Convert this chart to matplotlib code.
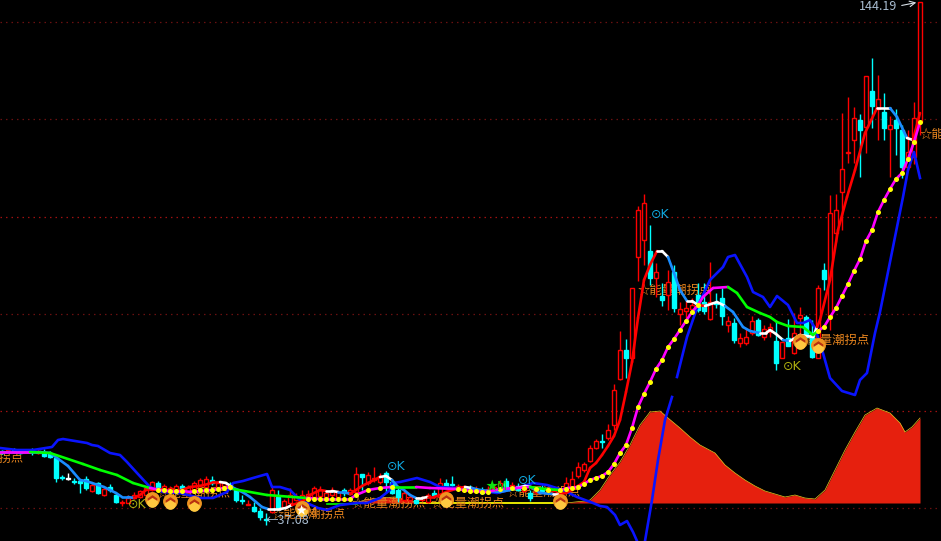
import matplotlib
matplotlib.use("Agg")
import matplotlib.pyplot as plt
from matplotlib.collections import LineCollection
from matplotlib.path import Path

plt.rcParams['font.family'] = ['Noto Sans CJK SC', 'DejaVu Sans']

# candles: x, kind, body top, body bottom, high, low (screen-scale values)
candle_x = [2,8,14,20,26,32,38,44,50,56,62,68,74,80,86,92,98,104,110,116,122,128,134,140,146,152,158,164,170,176,182,188,
            194,200,206,212,218,224,230,236,242,248,254,260,266,272,278,284,290,296,302,308,314,320,326,332,338,344,350,
            356,362,368,374,380,386,392,398,404,410,416,422,428,434,440,446,452,458,464,470,476,482,488,494,500,506,512,518,524,530,536,542,548,554,560,
            566,572,578,584,590,596,602,608,614,620,626,632,638,644,650,656,662,668,674,680,686,692,698,704,710,716,722,728,734,740,746,752,758,764,770,776,782,788,794,800,806,812,818,824,830,836,842,848,854,860,866,872,878,884,890,896,902,908,914,920]
candle_kind = list("duddudu" "ddd" "dwddududdd" "uuuuuuduuu" "duuuuduudd"
                   "duddduduuu" "uuuuuuuduu" "dudd" "uuddd" "uuuduududd"
                   "uuduuuduuduuduuu" "uuuuuuuuudu" "uuuuuudu" "dududu" "uuuddudd" "uuuduuuduuudu" "duddudu" "uu"
                   "uuuuudududududddu"[:0])
candle_kind = (candle_kind + ['u']*200)[:len(candle_x)]
_k_tail = {602:'d',626:'d',650:'d',662:'d',674:'d',698:'d',704:'d',716:'d',722:'d',734:'d',758:'d',776:'d',788:'d',806:'d',812:'d',824:'d',860:'d',872:'d',884:'d',896:'d',902:'d',
           62:'d',68:'w',56:'d',50:'d',44:'d',74:'d',80:'d',86:'d',98:'d',110:'d',116:'d',158:'d',182:'d',212:'d',230:'d',236:'d',242:'d',254:'d',260:'d',266:'d',278:'d',344:'d',
           362:'d',386:'d',392:'d',398:'d',416:'d',434:'d',446:'d',452:'d',470:'d',482:'d',506:'d',518:'d',530:'d',542:'d',2:'d',14:'d',20:'d',32:'d'}
candle_kind = [_k_tail.get(x,'u') for x in candle_x]

candle_top = [451,450,450,451,451,450,451,452,453,458,477,478,481,481,479,485,483,489,487,495,
              502,498,495,491,488,482,483,486,488,486,486,487,483,480,479,480,483,483,484,490,
              500,504,507,511,519,490,497,501,495,497,495,494,488,490,493,490,492,490,490,
              474,474,475,478,476,473,482,490,493,497,500,498,495,493,483,483,484,486,488,488,489,490,489,487,483,481,485,486,488,493,489,488,490,491,493,
              483,479,467,464,448,441,441,430,390,350,350,288,210,203,251,272,296,282,272,309,308,305,295,302,302,303,298,321,323,338,337,321,320,329,327,341,342,338,333,315,317,335,288,270,213,210,169,152,118,120,76,91,99,112,125,120,130,152,118,2]
candle_bot = [453,452,452,453,452,452,453,456,457,478,478,478,482,483,488,491,493,495,490,502,
              502,503,498,497,495,490,489,492,492,490,490,492,490,485,487,483,487,486,488,500,
              501,504,511,517,519,512,508,507,503,500,505,500,497,496,497,495,497,493,494,
              492,477,483,480,482,482,493,497,500,500,503,500,502,495,497,486,485,489,491,491,492,493,491,490,490,487,488,490,491,498,492,491,492,493,497,
              491,489,476,470,461,448,441,438,425,379,358,358,257,240,278,278,300,295,308,314,311,309,310,311,319,303,316,325,340,343,343,333,335,337,332,363,358,346,353,318,337,357,358,279,316,233,192,152,140,130,127,106,109,128,129,128,167,167,157,122]
candle_high = [450,449,448,449,450,448,449,449,451,458,475,473,478,480,476,482,482,488,484,494,
               500,495,492,490,486,481,481,484,486,484,484,485,481,478,476,476,481,481,482,488,
               495,500,502,508,513,487,490,499,488,493,490,490,486,486,490,487,490,488,488,
               467,474,472,467,473,471,480,488,490,494,498,496,493,490,478,479,476,484,485,485,486,487,486,484,480,478,482,483,485,490,486,485,487,488,490,
               477,471,462,462,445,439,434,424,384,331,339,288,206,194,225,263,283,270,265,302,300,298,283,283,262,293,288,316,318,333,328,316,318,325,323,321,342,319,313,307,315,320,285,263,195,194,113,97,107,114,76,58,75,93,116,109,125,130,102,2]
candle_low = [454,453,453,454,453,455,454,457,458,482,480,480,484,493,490,492,494,496,492,503,
              506,503,499,498,496,491,491,493,494,492,492,494,492,487,489,485,489,488,490,502,
              504,505,512,520,525,513,510,508,505,501,506,502,498,498,499,497,498,496,495,
              493,490,485,482,484,493,494,502,501,501,504,501,503,498,498,487,486,490,492,492,493,494,492,491,492,490,490,491,492,501,494,493,494,495,499,
              493,491,478,472,462,449,448,440,430,380,378,362,281,265,285,297,306,310,312,325,318,312,312,314,320,308,325,332,343,347,345,335,336,340,337,370,358,346,354,337,338,358,358,290,330,242,230,163,163,177,153,128,140,140,177,155,178,170,164,135]

# fast moving average
fast_x = [0,20,40,50,57,68,74,80,86,92,98,104,110,116,122,128,134,140,146,152,158,164,170,176,182,190,200,208,214,220,226,232,238,244,250,256,262,268,274,280,286,292,298,304,310,320,326,332,338,344,350,356,362,368,374,380,386,392,398,404,410,416,422,428,434,440,446,452,458,465,472,480,490,500,510,517,525,531,540,553,560,566,572,578,584,590,596,602,608,614,620,626,632,638,644,650,657,662,668,674,680,687,692,698,705,717,725,733,743,750,760,766,770,776,783,790,800,813,817,820,830,838,847,855,865,877,890,897,907,913,920]
fast_y = [452,452,452,453,458,466,473,480,481,483,485,487,490,493,497,497,498,495,490,489,489,490,492,491,490,487,486,484,482,482,483,487,490,493,497,502,507,509,509,509,508,505,503,500,495,490,491,491,492,492,494,490,486,483,480,477,476,480,487,490,495,498,498,497,497,495,492,490,488,487,488,490,491,492,490,488,486,487,493,494,494,493,490,486,482,468,463,455,446,436,420,392,362,318,280,265,251,251,257,273,290,301,301,305,306,302,306,312,327,331,333,333,330,334,340,341,335,337,327,320,280,230,197,170,133,108,108,117,138,140,113]
# colour of the fast line changes at these x values
fast_break_x = [0,27,34,50,134,220,230,268,290,326,336,350,380,388,416,428,460,472,490,517,527,553,560,657,663,687,698,705,722,760,768,770,778,790,817,877,890,907,913]
fast_break_state = list("bwbbrwbwrwbrwbwrwbbwbwrwbwrwbwrwbwrwbwr")

# mid moving average
mid_x = [0,30,50,83,100,117,133,150,160,170,180,193,212,230,233,267,293,307,320,335,350,356,368,380,392,416,430,457,472,487,500,515,530,545,560,568,578,584,590,596,602,608,614,620,626,632,638,644,650,656,662,668,674,680,686,692,698,703,713,728,737,747,760,770,777,788,803,813,818,824,830,836,842,848,854,860,866,872,878,884,890,896,902,908,914,920]
mid_y = [452,452,453,464,470,475,483,488,490,491,491,492,490,487,489,495,497,498,499,499,499,495,490,488,487,487,488,489,491,492,489,488,487,489,490,488,487,484,480,478,476,472,464,453,445,428,407,394,382,369,360,347,339,330,321,312,305,297,288,287,293,307,313,317,322,326,327,335,331,327,317,308,296,284,271,259,241,230,212,200,189,179,173,159,142,122]
mid_break_x = [0,15,150,232,307,392,416,527,547,728,815]
mid_break_state = list("mgmgmgmgmgm")
dot_x = [158,164,170,176,182,194,200,206,212,218,224,230,308,314,320,326,332,338,344,350,356,368,380,392,458,464,470,476,482,488,500,512,524,536,548,560,566,572,578,584,590,596,602,608,614,620,626,632,638,644,650,656,662,668,674,680,686,692,698,818,824,830,836,842,848,854,860,866,872,878,884,890,896,902,908,914,920]
dot_y = [490,490,491,491,491,491,490,490,490,489,488,487,499,499,499,499,499,499,499,499,495,490,488,487,489,490,491,491,492,492,489,488,488,489,490,490,489,488,487,484,480,478,476,472,464,453,445,428,407,394,382,369,360,347,339,330,321,312,305,331,327,317,308,296,284,271,259,241,230,212,200,189,179,173,159,142,122]

# slow band, in three pieces
band1_x = [0,17,33,52,58,63,87,92,98,110,120,127,137,150,163,180,200,213,227,233,243,253,267,272,280,290,300,318,327,340,357,367,380,390,392,400,417,430,440,457,477,497,517,533,547,563,577,593,600,607,615,620,627,633,637]
band1_y = [448,450,450,447,440,439,443,445,446,453,455,462,473,487,492,493,498,498,492,483,481,478,474,487,487,490,500,508,510,505,503,503,498,490,483,482,478,482,487,488,490,493,488,483,485,490,497,503,506,507,515,525,521,532,541]
band2_x = [645,652,658,665,672]
band2_y = [541,500,460,420,397]
band3_x = [677,687,697,710,723,728,735,747,753,763,770,777,788,797,803,810,815,823,830,842,855,860,867,875,880,903,908,914,920]
band3_y = [377,337,308,280,267,257,255,277,292,297,307,296,305,323,323,320,328,353,378,391,395,380,373,333,312,197,170,152,178]

# lower area
area_x = [355,365,380,395,410,417,566,575,585,590,600,610,620,630,640,650,660,668,680,690,700,715,725,735,745,755,765,775,785,795,805,815,825,835,845,855,865,877,890,900,905,912,920]
area_top = [503,500,498,497,500,503,503,502,501,500,490,475,462,445,425,412,411,418,428,437,445,453,465,473,480,486,491,494,497,495,498,499,490,470,450,432,415,408,413,423,432,427,418]
area_base = 503
pale_x = [420,480,553]
pale_y = [503,503,503]
pale2_x = [327,357]
pale2_y = [504,504]

level_bright = [217,411]
level_dim = [22,119,314,508]

signal_x = [152,170,194,302,446,560,800,818]
signal_y = [499,501,503,508,499,501,341,345]

labels = ["☆能量潮拐点"]*9
label_x = [24,157,272,352,431,507,638,870,920]
label_y = [458,493,514,503,503,492,290,340,134]
label_ha = ['right','left','left','left','left','left','left','right','left']

ok_x = [128,387,518,651,783]
ok_y = [505,466,481,214,366]
ok_col = ['#B0B010','#10A8E0','#10A8E0','#10A8E0','#B0B010']

fig = plt.figure(figsize=(9.41,5.41), dpi=100, facecolor='black')
ax = fig.add_axes([0,0,1,1], facecolor='black')
ax.set_xlim(0,941); ax.set_ylim(541,0); ax.axis('off')

for y in level_bright:
    ax.axhline(y, color='#A01010', lw=0.9, ls=(0,(1.2,3.2)), zorder=1)
for y in level_dim:
    ax.axhline(y, color='#6A1010', lw=0.9, ls=(0,(1.2,3.2)), zorder=1)

ax.fill_between(area_x, area_top, area_base, color='#E6200E', lw=0, zorder=1.5)
ax.plot(area_x, area_top, color='#E8C820', lw=0.5, zorder=1.6)
ax.plot(pale_x, pale_y, color='#FFFF00', lw=1.2, zorder=1.6)
ax.plot(pale2_x, pale2_y, color='#00FF00', lw=1.2, zorder=1.6)

col = {'u':'#FF0000','d':'#00FFFF','w':'#FFFFFF'}
wc = [col[k] for k in candle_kind]
ax.vlines(candle_x, candle_high, candle_low, colors=wc, lw=1.0, zorder=3)
for k in 'duw':
    xs = [x for x,c in zip(candle_x,candle_kind) if c==k]
    ts = [t for t,c in zip(candle_top,candle_kind) if c==k]
    bs = [max(b-t,1) for t,b,c in zip(candle_top,candle_bot,candle_kind) if c==k]
    ax.bar(xs, bs, bottom=ts, width=4.2, facecolor='black' if k=='u' else col[k],
           edgecolor=col[k], linewidth=1.0, zorder=3.2)

for lab,x,y,ha in zip(labels,label_x,label_y,label_ha):
    ax.text(x,y,lab,color='#E8851E',fontsize=8.9,ha=ha,va='center',zorder=2.5,clip_on=True)

def segs(xs,ys):
    return [[(xs[i],ys[i]),(xs[i+1],ys[i+1])] for i in range(len(xs)-1)]

def state_at(x, brk_x, brk_s):
    s = brk_s[0]
    for bx,bs in zip(brk_x,brk_s):
        if x>=bx:
            s = bs
    return s

fc = {'r':'#FF0000','w':'#FFFFFF','b':'#1A8CFF'}
ax.add_collection(LineCollection(segs(fast_x,fast_y),
    colors=[fc[state_at(x,fast_break_x,fast_break_state)] for x in fast_x[:-1]],
    linewidths=1.9, zorder=4.2, capstyle='round'))
mc = {'g':'#00FF00','m':'#FF00FF'}
ax.add_collection(LineCollection(segs(mid_x,mid_y),
    colors=[mc[state_at(x,mid_break_x,mid_break_state)] for x in mid_x[:-1]],
    linewidths=1.9, zorder=4.3, capstyle='round'))
for xs,ys in ((band1_x,band1_y),(band2_x,band2_y),(band3_x,band3_y)):
    ax.plot(xs,ys,color='#0A14FF',lw=1.9,zorder=4.1)
ax.scatter(dot_x,dot_y,s=13,color='#FFFF00',linewidths=0,zorder=4.5)

chevron = Path([(-0.8,0.0),(0,0.55),(0.8,0.0),(0.8,-0.4),(0,0.1),(-0.8,-0.4),(-0.8,0.0)],closed=True)
ax.scatter(signal_x,signal_y,s=115,color='#EE9420',linewidths=0,zorder=6)
ax.scatter(signal_x,[y+2.5 for y in signal_y],s=60,color='#FFC840',linewidths=0,zorder=6.1)
ax.scatter(signal_x,[y-1.5 for y in signal_y],s=48,marker=chevron,color='#B83010',linewidths=0,zorder=6.2)

for x,y,c in zip(ok_x,ok_y,ok_col):
    ax.text(x,y,"⊙K",color=c,fontsize=9,ha='left',va='center',zorder=6,family=['DejaVu Sans'])

ax.text(296,510,"★",color='#FFFFFF',fontsize=8,ha='left',va='center',zorder=7)
ax.text(307,512,"M",color='#E8851E',fontsize=9,ha='left',va='center',zorder=7)
ax.text(486,487,"★",color='#10E010',fontsize=9,ha='left',va='center',zorder=7)
ax.text(497,486,"M",color='#10E010',fontsize=9,ha='left',va='center',zorder=7)

ax.text(859,6,"144.19",color='#A8BCD0',fontsize=9,ha='left',va='center',zorder=7)
ax.annotate("",xy=(919,2),xytext=(899,6),arrowprops=dict(arrowstyle='->',color='#D8E0E8',lw=0.8),zorder=7)
ax.text(266,521,"←37.08",color='#A8BCD0',fontsize=9,ha='left',va='center',zorder=7)

fig.savefig("out.png",dpi=100,facecolor='black')
